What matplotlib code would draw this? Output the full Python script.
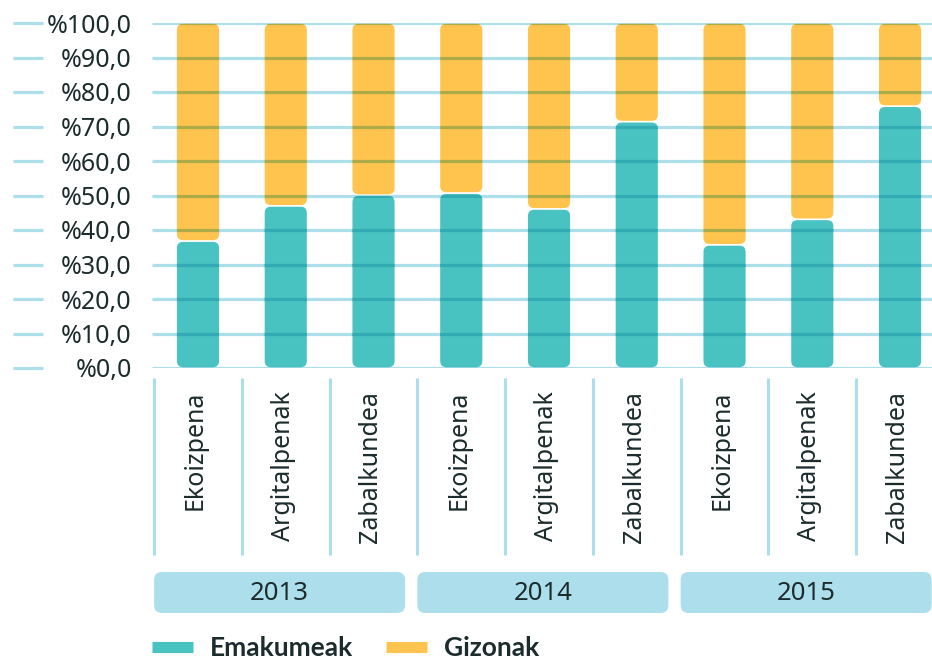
import matplotlib
matplotlib.use("Agg")
import matplotlib.pyplot as plt
from matplotlib.patches import FancyBboxPatch
from matplotlib.lines import Line2D
from matplotlib.colors import to_rgb

# ---- data ----
categories = ["Ekoizpena", "Argitalpenak", "Zabalkundea"] * 3
years = ["2013", "2014", "2015"]
emakumeak = [36.8, 47.0, 50.1, 50.7, 46.1, 71.4, 35.7, 43.1, 75.9]
gizonak = [round(100 - v, 1) for v in emakumeak]
series_names = ["Emakumeak", "Gizonak"]
yticks = list(range(0, 101, 10))
ytick_labels = [f"%{t},0" for t in yticks]

TEAL = "#49C3C1"
ORANGE = "#FFC44D"
LIGHT = "#ADDEEB"
GRID = "#ADDFEB"
DARK = "#1C2B2C"


def multiply(c1, c2):
    # grid lines over bars look like a multiply blend
    return tuple(a * b for a, b in zip(to_rgb(c1), to_rgb(c2)))


plt.rcParams["font.family"] = ["Noto Sans", "DejaVu Sans"]

W, H = 932, 662
fig = plt.figure(figsize=(W / 100, H / 100), dpi=100)

XLIM = (-0.524, 8.364)
ax = fig.add_axes([152 / W, 1 - 368 / H, 780 / W, 345 / H])
ax.set_xlim(*XLIM)
ax.set_ylim(0, 100)
for s in ax.spines.values():
    s.set_visible(False)
ax.set_xticks([])
ax.set_yticks(yticks, ytick_labels)
ax.tick_params(axis="y", length=0, pad=14.5, labelsize=18, labelcolor=DARK)

px_x = 780 / (XLIM[1] - XLIM[0])
px_y = 345 / 100
aspect = px_x / px_y
ytr = ax.get_yaxis_transform()

# plain grid + short dashes left of the labels
ax.hlines(yticks, 0, 1, transform=ytr, color=GRID, lw=2.3, zorder=1)
ax.hlines(yticks, -0.178, -0.140, transform=ytr, color=GRID, lw=2.3,
          clip_on=False)


def round_bars(bars, color, gap):
    # swap the plain rectangles for rounded ones, darker grid inside them
    for r in bars:
        x0, y0, w, h = r.get_x(), r.get_y(), r.get_width(), r.get_height()
        r.remove()
        p = FancyBboxPatch(
            (x0, y0 + gap), w, h - 2 * gap,
            boxstyle="round,pad=0,rounding_size=0.07",
            mutation_aspect=aspect, fc=color, ec="none", zorder=2)
        ax.add_patch(p)
        lines = ax.hlines(yticks, 0, 1, transform=ytr,
                          color=multiply(color, GRID), lw=2.3, zorder=3)
        lines.set_clip_path(p)


x = list(range(len(categories)))
b1 = ax.bar(x, emakumeak, width=0.48, color=TEAL)
b2 = ax.bar(x, gizonak, width=0.48, bottom=emakumeak, color=ORANGE)
round_bars(b1, TEAL, 0.25)
round_bars(b2, ORANGE, 0.25)

# ---- lower area: category labels, year boxes ----
ax2 = fig.add_axes([152 / W, 0, 780 / W, 294 / H])
ax2.set_xlim(*XLIM)
ax2.set_ylim(H, 368)
ax2.axis("off")

ax2.vlines([i - 0.5 for i in x], 378, 555, color=LIGHT, lw=2.2)
for i, cat in enumerate(categories):
    ax2.text(i - 0.03, 391, cat, rotation=90, ha="center", va="top",
             fontsize=18, color=DARK)

for g, yr in enumerate(years):
    x0 = 3 * g - 0.5
    ax2.add_patch(FancyBboxPatch(
        (x0, 572), 2.86, 41, boxstyle="round,pad=0,rounding_size=0.09",
        mutation_aspect=px_x, fc=LIGHT, ec="none"))
    ax2.text(x0 + 1.43, 594, yr, ha="center", va="center", fontsize=18.5,
             color=DARK)

handles = [Line2D([], [], color=TEAL, lw=8, solid_capstyle="butt"),
           Line2D([], [], color=ORANGE, lw=8, solid_capstyle="butt")]
leg = fig.legend(handles, series_names, loc="center left",
                 bbox_to_anchor=(152 / W, 1 - 648 / H), ncol=2, frameon=False,
                 prop=dict(family=["Lato", "DejaVu Sans"], weight="bold",
                           size=19),
                 handlelength=1.55, handletextpad=0.64, columnspacing=1.25,
                 borderpad=0, borderaxespad=0)
for t in leg.get_texts():
    t.set_color(DARK)

fig.savefig("out.png", dpi=100)
